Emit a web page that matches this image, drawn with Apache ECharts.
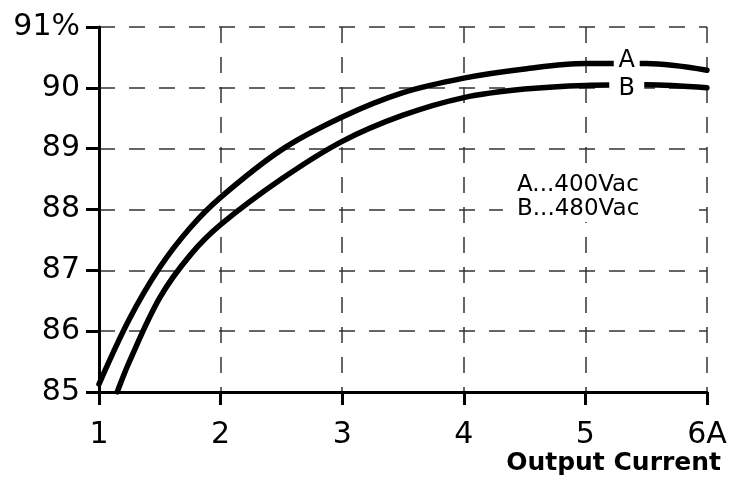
<!DOCTYPE html>
<html>
<head>
<meta charset="utf-8">
<script src="https://cdn.jsdelivr.net/npm/echarts@6/dist/echarts.min.js"></script>
<style>
  html, body { margin: 0; padding: 0; background: #fff; }
  #chart { width: 731px; height: 486px; }
</style>
</head>
<body>
<div id="chart"></div>
<script>
// efficiency vs output current
var curveA = [
  [1.0, 85.13], [1.25, 86.2], [1.5, 87.05], [1.75, 87.7], [2.0, 88.2],
  [2.5, 88.98], [3.0, 89.52], [3.5, 89.92], [4.0, 90.16], [4.5, 90.31],
  [5.0, 90.4], [5.5, 90.4], [6.0, 90.29]
];
var curveB = [
  [1.15, 85.0], [1.25, 85.5], [1.5, 86.55], [1.75, 87.25], [2.0, 87.75],
  [2.5, 88.5], [3.0, 89.12], [3.5, 89.55], [4.0, 89.84], [4.5, 89.98],
  [5.0, 90.04], [5.5, 90.05], [6.0, 90.0]
];
var curveNames = ['A', 'B'];
var curveTags = [[5.34, 90.4], [5.34, 90.04]];
var legendLines = ['A...400Vac', 'B...480Vac'];
var xName = 'Output Current';

var font = 'DejaVu Sans';
var chart = echarts.init(document.getElementById('chart'));

function curve(name, data, tag, gap, dy) {
  return {
    type: 'line',
    name: name,
    data: data,
    smooth: 0.35,
    showSymbol: false,
    silent: true,
    lineStyle: { color: '#000', width: 5.5, cap: 'round' },
    markPoint: {
      symbol: 'rect',
      symbolSize: [gap, 12],
      itemStyle: { color: '#fff' },
      label: {
        show: true, formatter: name, color: '#000',
        fontFamily: font, fontSize: 24, offset: [0, dy]
      },
      data: [{ coord: tag }]
    }
  };
}

chart.setOption({
  animation: false,
  grid: { left: 99, right: 24, top: 27, bottom: 94 },
  xAxis: {
    type: 'value', min: 1, max: 6, interval: 1,
    axisLine: { lineStyle: { color: '#000', width: 3 } },
    axisTick: { length: 13, lineStyle: { color: '#000', width: 3 } },
    axisLabel: {
      color: '#000', fontFamily: font, fontSize: 30, margin: 28,
      formatter: function (v) { return v === 6 ? '6A' : v; }
    },
    splitLine: { show: true, lineStyle: { color: '#333', width: 1.5, type: [16, 14] } }
  },
  yAxis: {
    type: 'value', min: 85, max: 91, interval: 1,
    axisLine: { show: true, lineStyle: { color: '#000', width: 3 } },
    axisTick: { show: true, length: 13, lineStyle: { color: '#000', width: 3 } },
    axisLabel: {
      color: '#000', fontFamily: font, fontSize: 30, margin: 19,
      formatter: function (v) { return v === 91 ? '91%' : v; }
    },
    splitLine: { lineStyle: { color: '#333', width: 1.5, type: [16, 14] } }
  },
  graphic: [
    {
      type: 'rect', left: 503, top: 172, z: 10,
      shape: { width: 186, height: 50 },
      style: { fill: '#fff' }
    },
    {
      type: 'text', left: 517, top: 173, z: 11,
      style: {
        text: legendLines.join('\n'), fill: '#000',
        font: '23px "' + font + '"', lineHeight: 24
      }
    },
    {
      type: 'text', right: 10, top: 451, z: 11,
      style: { text: xName, fill: '#000', font: 'bold 25px "' + font + '"' }
    }
  ],
  series: [
    curve(curveNames[0], curveA, curveTags[0], 26, -3),
    curve(curveNames[1], curveB, curveTags[1], 35, 3)
  ]
});
</script>
</body>
</html>
